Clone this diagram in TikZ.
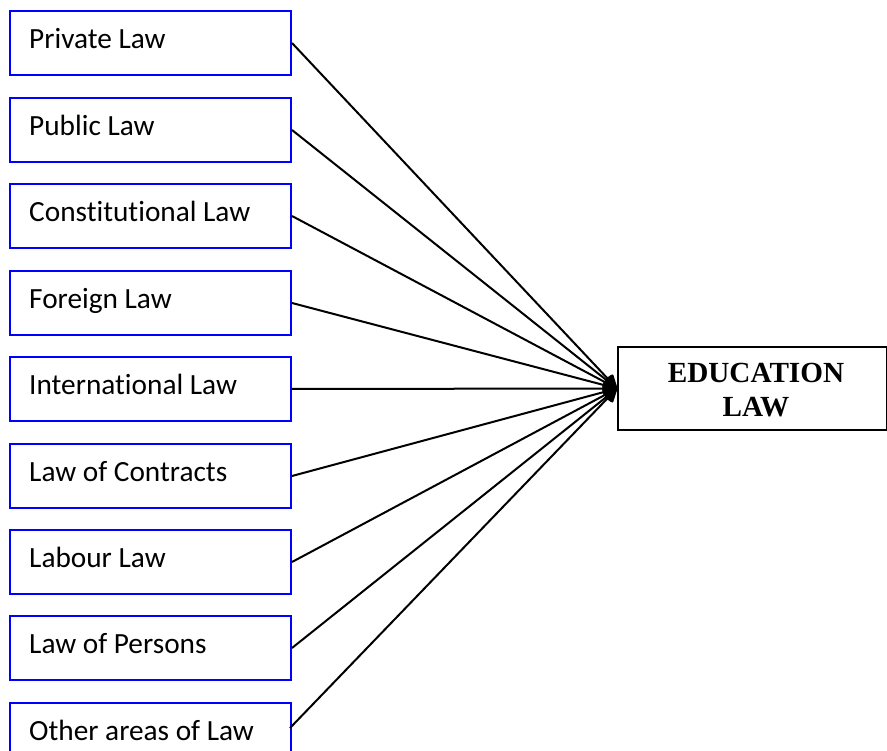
\documentclass[tikz,border=0pt]{standalone}
\usepackage{fontspec}
\setmainfont[Ligatures={NoCommon}]{Carlito}
\newfontfamily\timesfont{Liberation Serif}
\usetikzlibrary{arrows.meta}
\begin{document}
\begin{tikzpicture}[x=1pt,y=1pt,
  lawbox/.style={draw=blue, line width=2pt, minimum width=281pt, minimum height=64pt, inner sep=0pt, anchor=north west},
  lawtext/.style={anchor=base west, inner sep=0pt, font=\fontsize{29.3}{34}\selectfont},
  conn/.style={line width=2pt, -{Triangle[length=15pt,width=14pt,round]}, shorten >=0pt}]
\useasboundingbox (0,0) rectangle (887,-751);
\clip (0,0) rectangle (887,-751);
\fill[white] (0,0) rectangle (887,-751);
% education box
\node[draw=black, line width=2pt, minimum width=269pt, minimum height=83pt, inner sep=0pt, anchor=north west] (edu) at (617,-346) {};
\node[align=center, inner sep=0pt, font=\timesfont\bfseries\fontsize{29.2}{34}\selectfont] (edutext) at (756,-390.5) {EDUCATION\\LAW};
% law boxes
\foreach \name/\top/\label in {a/10/Private Law, b/97/Public Law, c/183/Constitutional Law, d/270/Foreign Law, e/356/International Law, f/443/Law of Contracts, g/529/Labour Law, h/615/Law of Persons, i/702/Other areas of Law}{
  \node[lawbox] (\name) at (9,-\top) {};
  \node[lawtext] (\name t) at (29,-\top-38.5) {\label};
}
\foreach \name in {a,b,c,d,e,f,g,h}{
  \draw[conn] (\name.east) -- (edu.west);
}
\coordinate (istart) at (290,-728);
\draw[conn] (istart) -- (edu.west);
\end{tikzpicture}
\end{document}
